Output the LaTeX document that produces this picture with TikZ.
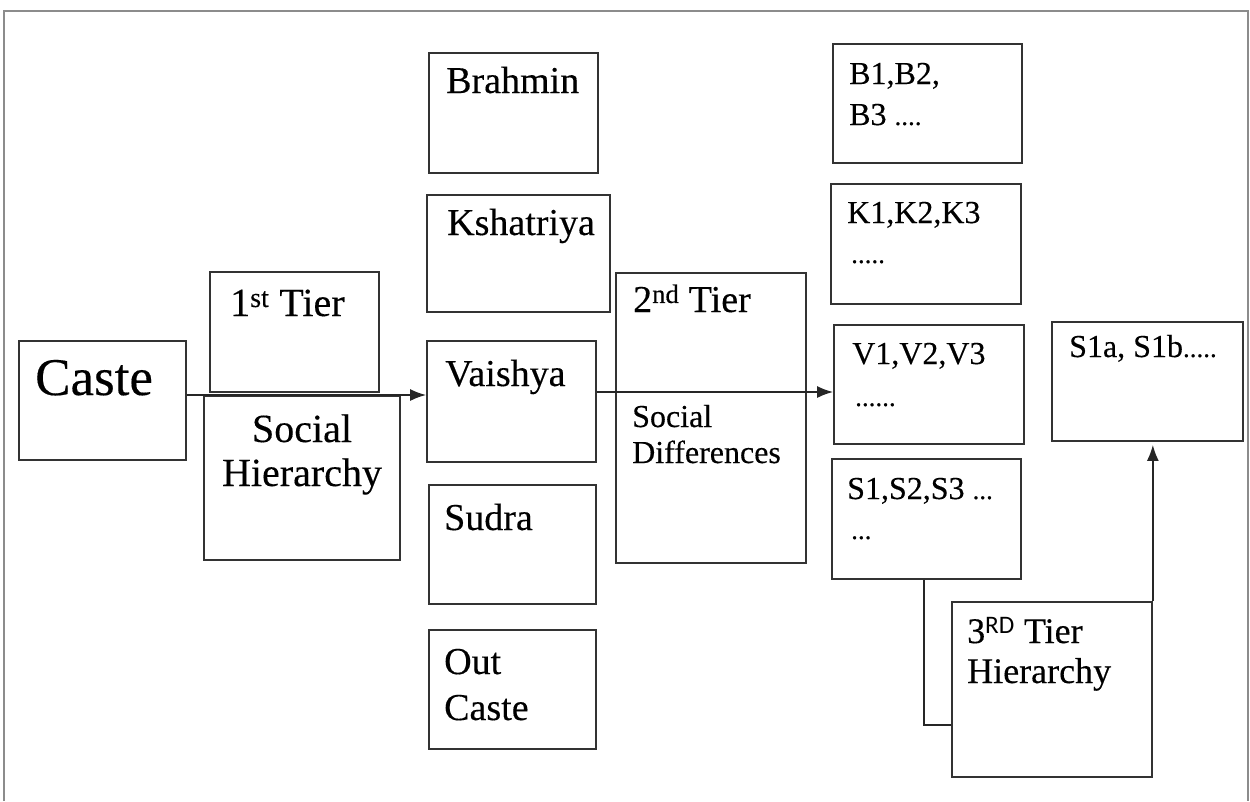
\documentclass[tikz,border=0pt]{standalone}
\usepackage{fontspec}
\setmainfont{Liberation Serif}[FakeBold=0.3]
\newfontfamily\calibri{Carlito}
\usetikzlibrary{arrows.meta}
% runs of small dots after the item lists
\newcommand\dotrun[1]{{\fontsize{27}{27}\selectfont #1}}
\begin{document}
\begin{tikzpicture}[x=1pt,y=-1pt,
  box/.style={draw=black!80, line width=1.7pt, inner sep=0pt, rectangle},
  txt/.style={anchor=base west, inner sep=0pt, text=black},
  ctxt/.style={anchor=base, inner sep=0pt, text=black},
  hugefont/.style={font=\fontsize{53}{60}\selectfont},
  tierfont/.style={font=\fontsize{40}{46}\selectfont},
  midfont/.style={font=\fontsize{38}{44}\selectfont},
  listfont/.style={font=\fontsize{32}{38}\selectfont},
  link/.style={draw=black!85, line width=1.7pt},
  arr/.style={link, -{Latex[length=16pt,width=12pt]}},
  frame/.style={draw=black!45, line width=1.2pt}]
\useasboundingbox (0,0) rectangle (1250,801);

% outer frame
\draw[frame] (4,801) -- (4,11) -- (1248,11) -- (1248,801);

% first tier
\node[box, minimum width=167pt, minimum height=119pt] (caste) at (102.5,400.5) {};
\node[box, minimum width=169pt, minimum height=120pt] (tier1) at (294.5,332) {};
\node[box, minimum width=196pt, minimum height=164pt] (hier) at (302,478) {};

% the varnas
\node[box, minimum width=169pt, minimum height=120pt] (brahmin) at (513.5,113) {};
\node[box, minimum width=183pt, minimum height=117pt] (kshatriya) at (518.5,253.5) {};
\node[box, minimum width=169pt, minimum height=121pt] (vaishya) at (511.5,401.5) {};
\node[box, minimum width=167pt, minimum height=119pt] (sudra) at (512.5,544.5) {};
\node[box, minimum width=167pt, minimum height=119pt] (outcaste) at (512.5,689.5) {};

% second tier
\node[box, minimum width=190pt, minimum height=290pt] (tier2) at (711,418) {};

% sub-castes
\node[box, minimum width=189pt, minimum height=119pt] (bsub) at (927.5,103.5) {};
\node[box, minimum width=190pt, minimum height=120pt] (ksub) at (926,244) {};
\node[box, minimum width=190pt, minimum height=119pt] (vsub) at (929,384.5) {};
\node[box, minimum width=189pt, minimum height=120pt] (ssub) at (926.5,519) {};

% third tier
\node[box, minimum width=191pt, minimum height=119pt] (s1sub) at (1147.5,381.5) {};
\node[box, minimum width=200pt, minimum height=175pt] (tier3) at (1052,689.5) {};

% labels
\node[txt, hugefont] (caste-t) at (35,395) {Caste};
\node[txt, tierfont] (tier1-t) at (230,316) {1\textsuperscript{st} Tier};
\node[ctxt, tierfont] (hier-t1) at (302,442) {Social};
\node[ctxt, tierfont] (hier-t2) at (302,486) {Hierarchy};

\node[txt, midfont] (brahmin-t) at (446,93) {Brahmin};
\node[txt, midfont] (kshatriya-t) at (447,235) {Kshatriya};
\node[txt, midfont] (vaishya-t) at (445,386) {Vaishya};
\node[txt, midfont] (sudra-t) at (444,530) {Sudra};
\node[txt, midfont] (outcaste-t1) at (444,674) {Out};
\node[txt, midfont] (outcaste-t2) at (444,720) {Caste};

\node[txt, midfont] (tier2-t) at (633,312) {2\textsuperscript{nd} Tier};
\node[txt, listfont] (tier2-t1) at (632,427) {Social};
\node[txt, listfont] (tier2-t2) at (632,463) {Differences};

\node[txt, listfont] (bsub-t1) at (849,84) {B1,B2,};
\node[txt, listfont] (bsub-t2) at (849,125) {B3 \dotrun{....}};
\node[txt, listfont] (ksub-t1) at (847,223) {K1,K2,K3};
\node[txt, listfont] (ksub-t2) at (851,263) {\dotrun{.....}};
\node[txt, listfont] (vsub-t1) at (852,364) {V1,V2,V3};
\node[txt, listfont] (vsub-t2) at (855,406) {\dotrun{......}};
\node[txt, listfont] (ssub-t1) at (847,499) {S1,S2,S3 \dotrun{...}};
\node[txt, listfont] (ssub-t2) at (851,539) {\dotrun{...}};

\node[txt, listfont] (s1sub-t) at (1069,357) {S1a, S1b\dotrun{.....}};
\node[txt, font=\fontsize{36}{40}\selectfont] (tier3-t1) at (967,643) {3\textsuperscript{\calibri RD} Tier};
\node[txt, font=\fontsize{36}{40}\selectfont] (tier3-t2) at (967,683) {Hierarchy};

% connectors
\draw[arr] (caste.east |- 0,395) -- (vaishya.west |- 0,395);
\draw[arr] (vaishya.east |- 0,392) -- (vsub.west |- 0,392);
\draw[link] (ssub.south -| 924,0) -- (924,725) -- (tier3.west |- 0,725);
\draw[arr, shorten >=3pt] (tier3.north east) -- (tier3.north east |- s1sub.south);
\end{tikzpicture}
\end{document}
